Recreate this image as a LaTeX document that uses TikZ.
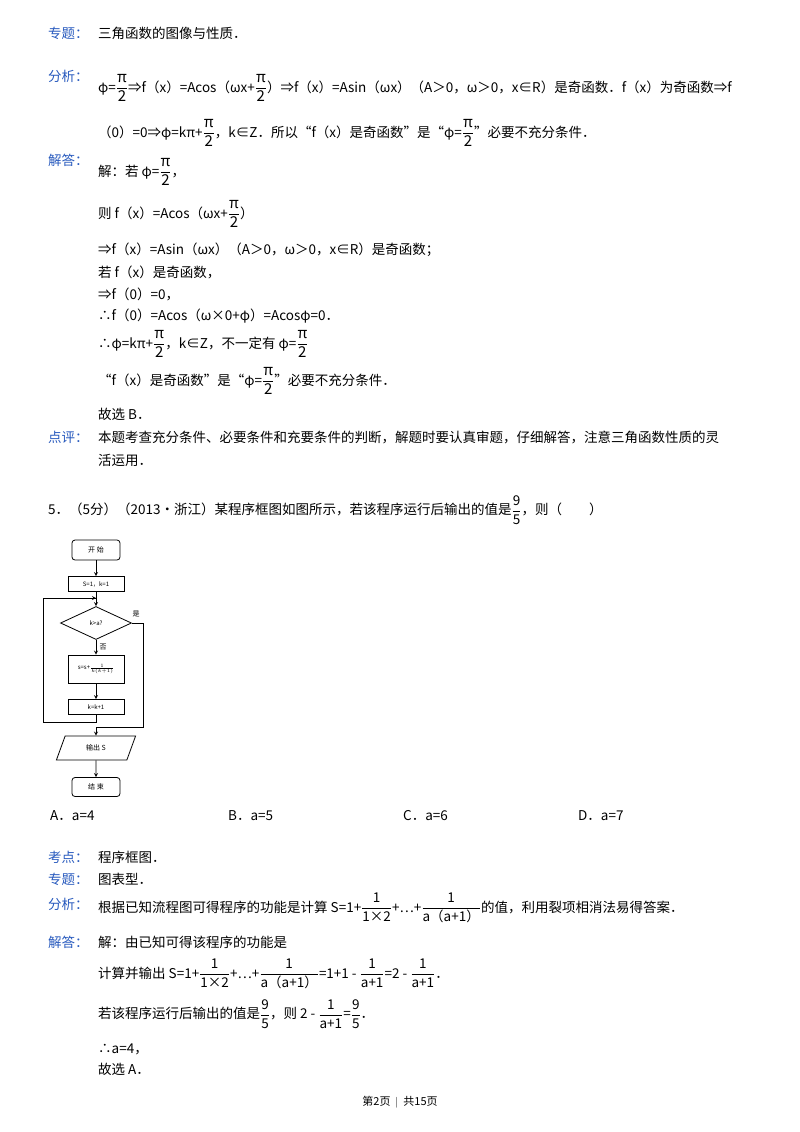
\documentclass[tikz,border=0pt]{standalone}
\usepackage{fontspec}
\setmainfont{Noto Sans CJK SC}
\usetikzlibrary{shapes.geometric}
\definecolor{lab}{RGB}{40,90,190}
\newcommand\fr[2]{$\displaystyle\frac{\mbox{\fontsize{15}{16}\selectfont #1}}{\mbox{\fontsize{15}{16}\selectfont #2}}$}
\newcommand\frs[2]{$\displaystyle\frac{\mbox{#1}}{\mbox{#2}}$}
\begin{document}
\begin{tikzpicture}[x=1pt,y=-1pt,
 t/.style={anchor=west,inner sep=0pt,font=\fontsize{13.5}{15}\selectfont},
 lb/.style={t,text=lab},
 fb/.style={draw,thick,minimum width=56pt,font=\fontsize{6}{7}\selectfont,inner sep=1pt},
 ar/.style={->,>=stealth,thick}]
\useasboundingbox (0,0) rectangle (800,1132);
\fill[white] (0,0) rectangle (800,1132);
\node[lb] (l1) at (48,33) {专题：};
\node[t] (a1) at (98,33) {三角函数的图像与性质．};
\node[lb] (l2) at (48,76) {分析：};
\node[t] (a2) at (98,88) {φ=\fr{π}{2}⇒f（x）=Acos（ωx+\fr{π}{2}）⇒f（x）=Asin（ωx）（A＞0，ω＞0，x∈R）是奇函数．f（x）为奇函数⇒f};
\node[t] (a3) at (98,133) {（0）=0⇒φ=kπ+\fr{π}{2}，k∈Z．所以“f（x）是奇函数”是“φ=\fr{π}{2}”必要不充分条件．};
\node[lb] (l3) at (48,160) {解答：};
\node[t] (b1) at (98,172) {解：若 φ=\fr{π}{2}，};
\node[t] (b2) at (98,214) {则 f（x）=Acos（ωx+\fr{π}{2}）};
\node[t] (b3) at (98,250) {⇒f（x）=Asin（ωx）（A＞0，ω＞0，x∈R）是奇函数；};
\node[t] (b4) at (98,272) {若 f（x）是奇函数，};
\node[t] (b5) at (98,294) {⇒f（0）=0，};
\node[t] (b6) at (98,316) {∴f（0）=Acos（ω×0+φ）=Acosφ=0．};
\node[t] (b7) at (98,344) {∴φ=kπ+\fr{π}{2}，k∈Z，不一定有 φ=\fr{π}{2}};
\node[t] (b8) at (98,381) {“f（x）是奇函数”是“φ=\fr{π}{2}”必要不充分条件．};
\node[t] (b9) at (98,414) {故选 B．};
\node[lb] (l4) at (48,437) {点评：};
\node[t] (c1) at (98,437) {本题考查充分条件、必要条件和充要条件的判断，解题时要认真审题，仔细解答，注意三角函数性质的灵};
\node[t] (c2) at (98,460) {活运用．};
\node[t] (q) at (48,510) {5．（5分）（2013•浙江）某程序框图如图所示，若该程序运行后输出的值是\frs{9}{5}，则（\quad\quad）};
% flowchart
\node[fb,rounded corners=3pt,minimum width=48pt,minimum height=20pt,font=\fontsize{7}{8}\selectfont] (st) at (96,550) {开 始};
\node[fb,minimum height=15pt] (s1) at (96,584) {S=1，k=1};
\node[fb,diamond,aspect=2.2,minimum width=71pt,minimum height=33pt,inner sep=0pt] (d) at (96,623) {k>a?};
\node[fb,minimum height=28pt] (s2) at (96,669) {s=s+$\frac{1}{k(k+1)}$};
\node[fb,minimum height=15pt] (s3) at (96,707) {k=k+1};
\node[fb,trapezium,trapezium left angle=70,trapezium right angle=110,minimum width=50pt,minimum height=24pt,font=\fontsize{7}{8}\selectfont] (o) at (96,748) {输出 S};
\node[fb,rounded corners=3pt,minimum width=48pt,minimum height=19pt,font=\fontsize{7}{8}\selectfont] (en) at (96,787) {结 束};
\coordinate (j1) at (96,598);
\coordinate (j2) at (96,727);
\draw[ar] (st) -- (s1);
\draw[ar] (s1) -- (d);
\draw[ar] (d) -- node[right,font=\fontsize{7}{8}\selectfont]{否} (s2);
\draw[ar] (s2) -- (s3);
\draw[thick] (s3.south) -- ++(0,7) -| (43,598) -- (j1);
\draw[ar] (43,598) -- (j1);
\draw[thick] (d.east) -- (143,623) |- (j2);
\node[font=\fontsize{7}{8}\selectfont] (y) at (136,614) {是};
\draw[ar] (j2) -- (o);
\draw[ar] (o) -- (en);
% options
\node[t] (oa) at (50,816) {A．a=4};
\node[t] (ob) at (228,816) {B．a=5};
\node[t] (oc) at (403,816) {C．a=6};
\node[t] (od) at (578,816) {D．a=7};
\node[lb] (l5) at (48,857) {考点：};
\node[t] (d1) at (98,857) {程序框图．};
\node[lb] (l6) at (48,879) {专题：};
\node[t] (d2) at (98,879) {图表型．};
\node[lb] (l7) at (48,904) {分析：};
\node[t] (d3) at (98,908) {根据已知流程图可得程序的功能是计算 S=1+\frs{1}{1×2}+…+\frs{\quad 1\quad}{a（a+1）}的值，利用裂项相消法易得答案．};
\node[lb] (l8) at (48,942) {解答：};
\node[t] (e1) at (98,942) {解：由已知可得该程序的功能是};
\node[t] (e2) at (98,974) {计算并输出 S=1+\frs{1}{1×2}+…+\frs{1}{a（a+1）}=1+1 - \frs{1}{a+1}=2 - \frs{1}{a+1}．};
\node[t] (e3) at (98,1014) {若该程序运行后输出的值是\frs{9}{5}，则 2 - \frs{1}{a+1}=\frs{9}{5}．};
\node[t] (e4) at (98,1049) {∴a=4，};
\node[t] (e5) at (98,1069) {故选 A．};
\node[font=\fontsize{11}{12}\selectfont] (ft) at (400,1102) {第2页 \ $|$ \ 共15页};
\end{tikzpicture}
\end{document}
